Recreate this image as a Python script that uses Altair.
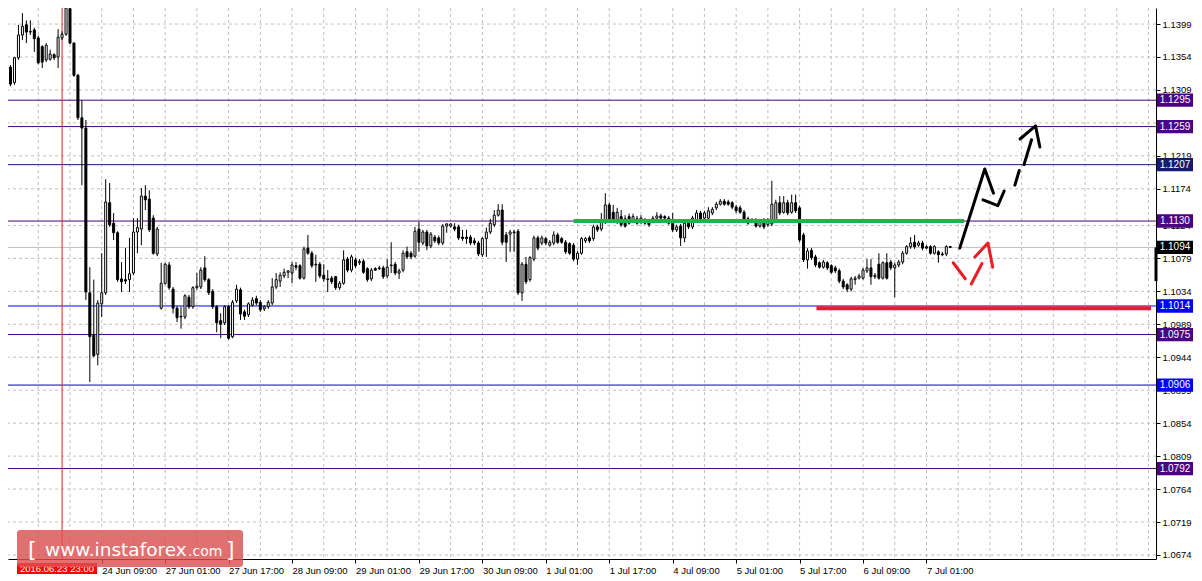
import json
import altair as alt
import pandas as pd

# ---------------- data (EURUSD H1, bar index 0 = 23 Jun 2016 09:00) ----------------
opens = [1.1346, 1.1340, 1.1319, 1.1353, 1.1384, 1.1398, 1.1388, 1.1391, 1.1380, 1.1368,
         1.1350, 1.1351, 1.1357, 1.1354, 1.1380, 1.1385, 1.1420, 1.1373, 1.1329, 1.1271,
         1.1257, 1.1032, 1.0974, 1.0948, 1.1017, 1.1032, 1.1155, 1.1127, 1.1114, 1.1051,
         1.1050, 1.1050, 1.1059, 1.1115, 1.1119, 1.1164, 1.1160, 1.1134, 1.1085, 1.1011,
         1.1045, 1.1070, 1.1037, 1.1011, 1.0999, 1.0999, 1.1026, 1.1013, 1.1039, 1.1040,
         1.1066, 1.1050, 1.1034, 1.1013, 1.0994, 1.0991, 1.1013, 1.0972, 1.1021, 1.1036,
         1.1006, 1.1002, 1.1015, 1.1024, 1.1019, 1.1010, 1.1013, 1.1018, 1.1040, 1.1048,
         1.1055, 1.1060, 1.1059, 1.1069, 1.1069, 1.1052, 1.1093, 1.1086, 1.1071, 1.1071,
         1.1056, 1.1051, 1.1052, 1.1054, 1.1039, 1.1045, 1.1078, 1.1063, 1.1077, 1.1073,
         1.1075, 1.1065, 1.1051, 1.1065, 1.1066, 1.1066, 1.1055, 1.1070, 1.1071, 1.1059,
         1.1063, 1.1088, 1.1086, 1.1082, 1.1119, 1.1100, 1.1115, 1.1096, 1.1108, 1.1107,
         1.1100, 1.1123, 1.1123, 1.1122, 1.1122, 1.1108, 1.1108, 1.1108, 1.1103, 1.1100,
         1.1084, 1.1106, 1.1115, 1.1125, 1.1138, 1.1145, 1.1111, 1.1112, 1.1115, 1.1116,
         1.1032, 1.1071, 1.1050, 1.1078, 1.1107, 1.1100, 1.1106, 1.1097, 1.1100, 1.1111,
         1.1106, 1.1101, 1.1099, 1.1097, 1.1078, 1.1086, 1.1103, 1.1107, 1.1106, 1.1122,
         1.1119, 1.1129, 1.1152, 1.1142, 1.1129, 1.1136, 1.1133, 1.1136, 1.1131, 1.1133,
         1.1129, 1.1131, 1.1130, 1.1130, 1.1134, 1.1137, 1.1136, 1.1134, 1.1127, 1.1118,
         1.1123, 1.1107, 1.1129, 1.1122, 1.1131, 1.1141, 1.1134, 1.1134, 1.1141, 1.1148,
         1.1153, 1.1157, 1.1156, 1.1155, 1.1149, 1.1148, 1.1142, 1.1133, 1.1131, 1.1131,
         1.1123, 1.1131, 1.1125, 1.1126, 1.1131, 1.1155, 1.1142, 1.1155, 1.1142, 1.1155,
         1.1148, 1.1111, 1.1077, 1.1090, 1.1081, 1.1073, 1.1067, 1.1073, 1.1069, 1.1066,
         1.1062, 1.1048, 1.1043, 1.1037, 1.1050, 1.1052, 1.1052, 1.1062, 1.1066, 1.1054,
         1.1071, 1.1052, 1.1073, 1.1074, 1.1066, 1.1070, 1.1074, 1.1086, 1.1095, 1.1101,
         1.1097, 1.1100, 1.1095, 1.1095, 1.1086, 1.1088, 1.1085, 1.1085, 1.1095]
highs = [1.1353, 1.1343, 1.1354, 1.1398, 1.1414, 1.1404, 1.1404, 1.1394, 1.1383, 1.1370,
         1.1373, 1.1364, 1.1359, 1.1392, 1.1389, 1.1425, 1.1428, 1.1374, 1.1331, 1.1295,
         1.1268, 1.1067, 1.1050, 1.1022, 1.1086, 1.1187, 1.1182, 1.1141, 1.1116, 1.1074,
         1.1093, 1.1107, 1.1134, 1.1134, 1.1175, 1.1179, 1.1172, 1.1138, 1.1122, 1.1073,
         1.1073, 1.1074, 1.1040, 1.1014, 1.1013, 1.1030, 1.1029, 1.1041, 1.1059, 1.1067,
         1.1082, 1.1052, 1.1037, 1.1015, 1.1004, 1.1015, 1.1015, 1.1022, 1.1043, 1.1039,
         1.1009, 1.1019, 1.1026, 1.1028, 1.1022, 1.1015, 1.1022, 1.1052, 1.1059, 1.1060,
         1.1065, 1.1063, 1.1074, 1.1074, 1.1071, 1.1095, 1.1111, 1.1089, 1.1084, 1.1074,
         1.1071, 1.1063, 1.1055, 1.1055, 1.1048, 1.1090, 1.1081, 1.1084, 1.1080, 1.1078,
         1.1078, 1.1067, 1.1066, 1.1067, 1.1069, 1.1069, 1.1078, 1.1101, 1.1074, 1.1065,
         1.1090, 1.1095, 1.1089, 1.1122, 1.1129, 1.1118, 1.1118, 1.1115, 1.1111, 1.1110,
         1.1126, 1.1127, 1.1127, 1.1127, 1.1125, 1.1118, 1.1118, 1.1111, 1.1107, 1.1103,
         1.1108, 1.1121, 1.1133, 1.1145, 1.1153, 1.1153, 1.1115, 1.1118, 1.1118, 1.1119,
         1.1074, 1.1081, 1.1082, 1.1110, 1.1110, 1.1110, 1.1108, 1.1104, 1.1116, 1.1114,
         1.1108, 1.1104, 1.1101, 1.1100, 1.1089, 1.1108, 1.1108, 1.1110, 1.1125, 1.1125,
         1.1141, 1.1168, 1.1155, 1.1152, 1.1148, 1.1145, 1.1138, 1.1140, 1.1140, 1.1137,
         1.1138, 1.1134, 1.1133, 1.1137, 1.1142, 1.1140, 1.1138, 1.1137, 1.1141, 1.1125,
         1.1126, 1.1129, 1.1131, 1.1137, 1.1145, 1.1144, 1.1144, 1.1149, 1.1149, 1.1156,
         1.1160, 1.1160, 1.1159, 1.1157, 1.1152, 1.1151, 1.1145, 1.1136, 1.1134, 1.1134,
         1.1133, 1.1134, 1.1134, 1.1185, 1.1159, 1.1164, 1.1164, 1.1159, 1.1166, 1.1166,
         1.1151, 1.1114, 1.1093, 1.1093, 1.1084, 1.1075, 1.1077, 1.1075, 1.1071, 1.1069,
         1.1065, 1.1051, 1.1045, 1.1054, 1.1055, 1.1058, 1.1066, 1.1078, 1.1078, 1.1059,
         1.1086, 1.1075, 1.1086, 1.1077, 1.1073, 1.1077, 1.1089, 1.1097, 1.1108, 1.1111,
         1.1103, 1.1103, 1.1097, 1.1097, 1.1097, 1.1090, 1.1088, 1.1097, 1.1096]
lows = [1.1333, 1.1314, 1.1316, 1.1350, 1.1377, 1.1373, 1.1384, 1.1361, 1.1344, 1.1339,
        1.1347, 1.1349, 1.1350, 1.1339, 1.1377, 1.1383, 1.1372, 1.1327, 1.1268, 1.1179,
        1.1022, 1.0910, 1.0944, 1.0933, 1.0999, 1.1029, 1.1122, 1.1104, 1.1047, 1.1033,
        1.1044, 1.1033, 1.1056, 1.1086, 1.1097, 1.1145, 1.1115, 1.1084, 1.1082, 1.1009,
        1.1043, 1.1036, 1.1004, 1.0992, 1.0983, 1.0996, 1.1010, 1.1010, 1.1036, 1.1037,
        1.1047, 1.1029, 1.1010, 1.0978, 1.0970, 1.0988, 1.0968, 1.0970, 1.1018, 1.0995,
        1.0995, 1.0999, 1.1013, 1.1015, 1.1006, 1.1007, 1.1010, 1.1015, 1.1037, 1.1040,
        1.1052, 1.1052, 1.1045, 1.1063, 1.1050, 1.1050, 1.1084, 1.1066, 1.1047, 1.1052,
        1.1047, 1.1033, 1.1044, 1.1036, 1.1036, 1.1043, 1.1060, 1.1060, 1.1066, 1.1070,
        1.1058, 1.1047, 1.1048, 1.1062, 1.1063, 1.1051, 1.1052, 1.1059, 1.1056, 1.1051,
        1.1060, 1.1078, 1.1078, 1.1080, 1.1088, 1.1097, 1.1090, 1.1093, 1.1100, 1.1097,
        1.1097, 1.1114, 1.1121, 1.1116, 1.1104, 1.1103, 1.1099, 1.1097, 1.1097, 1.1082,
        1.1081, 1.1081, 1.1112, 1.1122, 1.1136, 1.1097, 1.1074, 1.1088, 1.1088, 1.1029,
        1.1021, 1.1044, 1.1047, 1.1075, 1.1090, 1.1097, 1.1097, 1.1095, 1.1097, 1.1099,
        1.1099, 1.1085, 1.1084, 1.1075, 1.1070, 1.1084, 1.1100, 1.1100, 1.1103, 1.1115,
        1.1116, 1.1126, 1.1129, 1.1129, 1.1126, 1.1122, 1.1121, 1.1125, 1.1129, 1.1125,
        1.1126, 1.1125, 1.1122, 1.1127, 1.1131, 1.1131, 1.1133, 1.1125, 1.1115, 1.1115,
        1.1096, 1.1101, 1.1119, 1.1119, 1.1129, 1.1129, 1.1131, 1.1131, 1.1138, 1.1145,
        1.1151, 1.1151, 1.1151, 1.1146, 1.1141, 1.1140, 1.1129, 1.1125, 1.1127, 1.1121,
        1.1121, 1.1119, 1.1122, 1.1123, 1.1129, 1.1138, 1.1140, 1.1138, 1.1140, 1.1141,
        1.1101, 1.1074, 1.1065, 1.1077, 1.1067, 1.1065, 1.1065, 1.1063, 1.1058, 1.1059,
        1.1045, 1.1037, 1.1033, 1.1034, 1.1043, 1.1050, 1.1050, 1.1059, 1.1043, 1.1051,
        1.1050, 1.1050, 1.1050, 1.1063, 1.1026, 1.1067, 1.1071, 1.1084, 1.1092, 1.1092,
        1.1095, 1.1090, 1.1092, 1.1084, 1.1084, 1.1073, 1.1082, 1.1082, 1.1093]
closes = [1.1336, 1.1317, 1.1353, 1.1384, 1.1396, 1.1388, 1.1389, 1.1379, 1.1346, 1.1347,
          1.1370, 1.1358, 1.1353, 1.1381, 1.1385, 1.1421, 1.1373, 1.1329, 1.1271, 1.1257,
          1.1033, 1.0972, 1.0946, 1.1018, 1.1032, 1.1156, 1.1125, 1.1114, 1.1050, 1.1047,
          1.1048, 1.1058, 1.1115, 1.1121, 1.1164, 1.1159, 1.1118, 1.1086, 1.1119, 1.1045,
          1.1071, 1.1039, 1.1011, 1.0998, 1.1000, 1.1028, 1.1013, 1.1039, 1.1041, 1.1063,
          1.1050, 1.1032, 1.1013, 1.0991, 1.0989, 1.1013, 1.0970, 1.1019, 1.1037, 1.1003,
          1.1000, 1.1017, 1.1022, 1.1018, 1.1009, 1.1013, 1.1019, 1.1040, 1.1050, 1.1056,
          1.1060, 1.1062, 1.1070, 1.1067, 1.1052, 1.1092, 1.1086, 1.1069, 1.1070, 1.1055,
          1.1051, 1.1050, 1.1047, 1.1039, 1.1045, 1.1077, 1.1063, 1.1081, 1.1069, 1.1075,
          1.1060, 1.1050, 1.1063, 1.1063, 1.1065, 1.1054, 1.1067, 1.1069, 1.1059, 1.1062,
          1.1086, 1.1081, 1.1081, 1.1116, 1.1101, 1.1115, 1.1096, 1.1112, 1.1103, 1.1100,
          1.1123, 1.1126, 1.1126, 1.1119, 1.1107, 1.1106, 1.1106, 1.1100, 1.1100, 1.1085,
          1.1106, 1.1115, 1.1127, 1.1138, 1.1145, 1.1101, 1.1101, 1.1115, 1.1114, 1.1032,
          1.1071, 1.1047, 1.1080, 1.1107, 1.1093, 1.1107, 1.1100, 1.1101, 1.1111, 1.1101,
          1.1101, 1.1088, 1.1086, 1.1078, 1.1086, 1.1106, 1.1106, 1.1103, 1.1122, 1.1118,
          1.1129, 1.1152, 1.1131, 1.1131, 1.1142, 1.1125, 1.1123, 1.1127, 1.1136, 1.1127,
          1.1134, 1.1127, 1.1125, 1.1134, 1.1137, 1.1134, 1.1134, 1.1127, 1.1118, 1.1122,
          1.1107, 1.1127, 1.1122, 1.1134, 1.1141, 1.1131, 1.1141, 1.1144, 1.1146, 1.1153,
          1.1157, 1.1153, 1.1153, 1.1149, 1.1144, 1.1142, 1.1131, 1.1127, 1.1130, 1.1123,
          1.1130, 1.1122, 1.1131, 1.1153, 1.1155, 1.1141, 1.1155, 1.1141, 1.1155, 1.1144,
          1.1104, 1.1077, 1.1089, 1.1080, 1.1070, 1.1067, 1.1074, 1.1066, 1.1060, 1.1062,
          1.1048, 1.1040, 1.1037, 1.1051, 1.1052, 1.1055, 1.1063, 1.1066, 1.1054, 1.1056,
          1.1052, 1.1073, 1.1052, 1.1066, 1.1070, 1.1074, 1.1086, 1.1095, 1.1100, 1.1095,
          1.1100, 1.1093, 1.1093, 1.1086, 1.1095, 1.1084, 1.1084, 1.1095, 1.1094]

x_tick_bars = [24, 40, 56, 72, 88, 104, 120, 136, 152, 168, 184, 200, 216, 232]
x_tick_labels = ["24 Jun 09:00", "27 Jun 01:00", "27 Jun 17:00", "28 Jun 09:00",
                 "29 Jun 01:00", "29 Jun 17:00", "30 Jun 09:00", "1 Jul 01:00",
                 "1 Jul 17:00", "4 Jul 09:00", "5 Jul 01:00", "5 Jul 17:00",
                 "6 Jul 09:00", "7 Jul 01:00"]
grid_bars = list(range(0, 289, 8))
y_ticks = [1.1399, 1.1354, 1.1309, 1.1264, 1.1219, 1.1174, 1.1124, 1.1079, 1.1034,
           1.0989, 1.0944, 1.0899, 1.0854, 1.0809, 1.0764, 1.0719, 1.0674]

level_prices = [1.1295, 1.1259, 1.1207, 1.1130, 1.1094, 1.1014, 1.0975, 1.0906, 1.0792]
level_line_colors = ["#4B0082", "#4B0082", "#191970", "#4B0082", "#C0C0C0",
                     "#0000FF", "#4B0082", "#0000CD", "#4B0082"]
level_box_colors = ["#4B0082", "#4B0082", "#191970", "#4B0082", "#000000",
                    "#0000FF", "#4B0082", "#0000FF", "#4B0082"]

zone_start = [143, 204.25]
zone_end = [241.5, 288.625]
zone_price = [1.1130, 1.1011]
zone_color = ["#22B14C", "#ED1C24"]

arrow_seg = ["a", "a", "a", "b", "b", "b", "c", "c", "d", "d", "e", "e", "e",
             "f", "f", "g", "g", "h", "h", "h"]
arrow_bar = [240.4, 246.7, 248.9, 246.25, 250.0, 251.6, 254.3, 255.4, 256.6, 258.5,
             255.6, 259.5, 260.6, 238.75, 241.8, 243.3, 246.0, 244.2, 247.5, 248.7]
arrow_price = [1.1093, 1.1201, 1.1168, 1.1159, 1.1151, 1.1171, 1.1179, 1.1199, 1.1207, 1.1241,
               1.1242, 1.1260, 1.1231, 1.1073, 1.1051, 1.1044, 1.1072, 1.1081, 1.1100, 1.1067]
arrow_color = ["#000000"] * 13 + ["#ED1C24"] * 7

cursor_bar = [14]
cursor_label = "2016.06.23 23:00"

# ---------------- layout ----------------
W, H = 1148, 551
X_DOM = [1.625, 288.625]
Y_DOM = [1.06685, 1.14209]
FONT = "Liberation Sans"

xs = alt.Scale(domain=X_DOM, nice=False, zero=False)
ys = alt.Scale(domain=Y_DOM, nice=False, zero=False)

candles = pd.DataFrame({"bar": list(range(len(opens))), "o": opens, "h": highs,
                        "l": lows, "c": closes})
candles["fill"] = ["#FFFFFF" if c >= o else "#000000" for o, c in zip(opens, closes)]

label_expr = json.dumps(x_tick_labels) + "[round((datum.value - 24) / 16)]"

x_axis = alt.Axis(values=x_tick_bars, labelExpr=label_expr, grid=False, title=None,
                  labelAlign="left", labelBaseline="top", labelPadding=2, tickSize=4,
                  labelFont=FONT, labelFontSize=9.5, labelColor="#000000",
                  tickColor="#000000", domainColor="#000000", labelFlush=False,
                  labelOverlap=False)
y_axis = alt.Axis(values=y_ticks, format=".4f", orient="right", grid=False, title=None,
                  labelAlign="left", labelBaseline="middle", labelPadding=2, tickSize=4,
                  labelFont=FONT, labelFontSize=9.5, labelColor="#000000",
                  tickColor="#000000", domainColor="#000000", labelFlush=False,
                  labelOverlap=False)

# first layer carries both axes (points drawn invisibly)
axes_layer = alt.Chart(candles).mark_point(opacity=0, clip=True).encode(
    x=alt.X("bar:Q", scale=xs, axis=x_axis),
    y=alt.Y("c:Q", scale=ys, axis=y_axis),
)

vgrid = alt.Chart(pd.DataFrame({"bar": grid_bars})).mark_rule(
    color="#C0C0C0", strokeDash=[3, 3], strokeWidth=1, clip=True
).encode(x=alt.X("bar:Q", scale=xs, axis=x_axis))

hgrid = alt.Chart(pd.DataFrame({"price": y_ticks})).mark_rule(
    color="#C0C0C0", strokeDash=[3, 3], strokeWidth=1, clip=True
).encode(y=alt.Y("price:Q", scale=ys, axis=y_axis))

levels = alt.Chart(pd.DataFrame({"price": level_prices, "col": level_line_colors})).mark_rule(
    strokeWidth=1, clip=True
).encode(y=alt.Y("price:Q", scale=ys, axis=y_axis), color=alt.Color("col:N", scale=None))

cursor = alt.Chart(pd.DataFrame({"bar": cursor_bar})).mark_rule(
    color="#E0201E", strokeWidth=1, clip=True
).encode(x=alt.X("bar:Q", scale=xs, axis=x_axis))

wicks = alt.Chart(candles).mark_rule(color="#000000", strokeWidth=1, clip=True).encode(
    x=alt.X("bar:Q", scale=xs, axis=x_axis),
    y=alt.Y("l:Q", scale=ys, axis=y_axis),
    y2="h:Q",
)

bodies = alt.Chart(candles).mark_bar(size=2, stroke="#000000", strokeWidth=1, clip=True).encode(
    x=alt.X("bar:Q", scale=xs, axis=x_axis),
    y=alt.Y("o:Q", scale=ys, axis=y_axis),
    y2="c:Q",
    fill=alt.Fill("fill:N", scale=None),
)

zones = alt.Chart(pd.DataFrame({"x1": zone_start, "x2": zone_end, "price": zone_price,
                                "col": zone_color})).mark_rule(strokeWidth=4, clip=True).encode(
    x=alt.X("x1:Q", scale=xs, axis=x_axis),
    x2="x2:Q",
    y=alt.Y("price:Q", scale=ys, axis=y_axis),
    color=alt.Color("col:N", scale=None),
)

arrows = alt.Chart(pd.DataFrame({"seg": arrow_seg, "bar": arrow_bar, "price": arrow_price,
                                 "col": arrow_color,
                                 "ord": list(range(len(arrow_bar)))})).mark_line(
    strokeWidth=3, strokeCap="round", strokeJoin="round", clip=True
).encode(
    x=alt.X("bar:Q", scale=xs, axis=x_axis),
    y=alt.Y("price:Q", scale=ys, axis=y_axis),
    detail="seg:N",
    order="ord:Q",
    color=alt.Color("col:N", scale=None),
)

boxes_df = pd.DataFrame({"price": level_prices, "col": level_box_colors})
boxes = alt.Chart(boxes_df).mark_point(
    shape="M-1,-0.37L1,-0.37L1,0.37L-1,0.37Z", size=1296, filled=True, opacity=1,
    strokeWidth=0
).encode(
    x=alt.value(W + 19),
    y=alt.Y("price:Q", scale=ys, axis=y_axis),
    fill=alt.Fill("col:N", scale=None),
)
box_text = alt.Chart(boxes_df).mark_text(
    font=FONT, fontSize=10, color="#FFFFFF", align="center", baseline="middle"
).encode(
    x=alt.value(W + 19),
    y=alt.Y("price:Q", scale=ys, axis=y_axis),
    text=alt.Text("price:Q", format=".4f"),
)

shift_bar = alt.Chart(pd.DataFrame({"p1": [1.1094], "p2": [1.1048]})).mark_rule(
    color="#000000", strokeWidth=3
).encode(x=alt.value(W), y=alt.Y("p1:Q", scale=ys, axis=y_axis), y2="p2:Q")

one = pd.DataFrame({"k": [0]})
cursor_box = alt.Chart(one).mark_rect(color="#FF0000").encode(
    x=alt.value(9), x2=alt.value(89), y=alt.value(H + 4), y2=alt.value(H + 15))
cursor_txt = alt.Chart(one).mark_text(
    text=cursor_label, font=FONT, fontSize=9.5, color="#FFFFFF", align="center",
    baseline="middle").encode(x=alt.value(49), y=alt.value(H + 9.5))

logo_box = alt.Chart(one).mark_rect(color="#DD5050", opacity=0.82, cornerRadius=3).encode(
    x=alt.value(9), x2=alt.value(235), y=alt.value(H - 29), y2=alt.value(H + 8))
logo_l = alt.Chart(one).mark_text(
    text="[", font="DejaVu Sans", fontSize=22, color="#FFFFFF", align="left",
    baseline="alphabetic").encode(x=alt.value(20), y=alt.value(H - 2))
logo_main = alt.Chart(one).mark_text(
    text="www.instaforex", font="DejaVu Sans", fontSize=18.5, color="#FFFFFF",
    align="left", baseline="alphabetic").encode(x=alt.value(37), y=alt.value(H - 3))
logo_com = alt.Chart(one).mark_text(
    text=".com", font="DejaVu Sans", fontSize=14, color="#FFFFFF", align="left",
    baseline="alphabetic").encode(x=alt.value(180), y=alt.value(H - 3))
logo_r = alt.Chart(one).mark_text(
    text="]", font="DejaVu Sans", fontSize=22, color="#FFFFFF", align="left",
    baseline="alphabetic").encode(x=alt.value(218), y=alt.value(H - 2))

chart = alt.layer(
    axes_layer, vgrid, hgrid, levels, cursor, wicks, bodies, zones, arrows,
    boxes, box_text, shift_bar, cursor_box, cursor_txt,
    logo_box, logo_l, logo_main, logo_com, logo_r,
).properties(
    width=W, height=H, padding={"left": 0, "top": 0, "right": 0, "bottom": 0},
    background="#FFFFFF",
).configure_view(strokeWidth=0)

chart.save("out.html", embed_options={"renderer": "svg", "actions": False})
